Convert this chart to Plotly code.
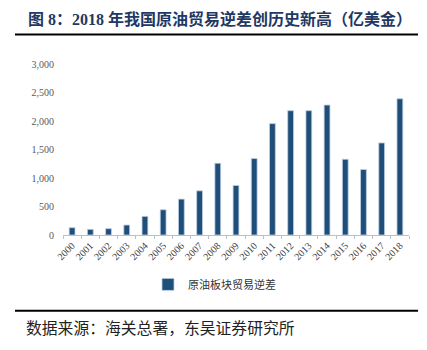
import plotly.graph_objects as go

years = [str(y) for y in range(2000, 2019)]
deficit = [128, 99, 111, 175, 327, 443, 630, 775, 1259, 869, 1341, 1954, 2181, 2181, 2280, 1329, 1149, 1615, 2391]
series_name = "原油板块贸易逆差"
title_text = "图 8：2018 年我国原油贸易逆差创历史新高（亿美金）"
source_text = "数据来源：海关总署，东吴证券研究所"
y_ticks = [0, 500, 1000, 1500, 2000, 2500, 3000]

W, H = 427, 350
L, R, T, B = 63, 18, 63.5, 115

fig = go.Figure()
fig.add_trace(go.Bar(
    x=years, y=deficit, name=series_name,
    marker=dict(color="#1F4E79", line=dict(color="#BFD0E4", width=0.8)),
    width=0.32,
))

def px_x(p):
    return (p - L) / (W - L - R)

def px_y(p):
    return (H - B - p) / (H - T - B)

fig.update_layout(
    width=W, height=H,
    margin=dict(l=L, r=R, t=T, b=B),
    paper_bgcolor="white", plot_bgcolor="white",
    showlegend=True,
    legend=dict(orientation="h", x=px_x(148), y=px_y(270), xanchor="left", yanchor="top",
                font=dict(family="Liberation Serif, Noto Sans CJK SC", size=11, color="#333333"),
                itemwidth=30, bgcolor="rgba(0,0,0,0)"),
    xaxis=dict(
        type="category", tickangle=-45,
        tickfont=dict(family="Liberation Serif", size=10, color="#404040"),
        showline=True, linecolor="#BFBFBF", linewidth=1,
        ticks="outside", ticklen=3, tickcolor="#BFBFBF", tickson="boundaries",
        showgrid=False,
    ),
    yaxis=dict(
        range=[0, 3000], tickvals=y_ticks, tickformat=",",
        tickfont=dict(family="Liberation Serif", size=10, color="#595959"),
        showgrid=False, showline=False, zeroline=False, ticks="", ticklabelstandoff=8,
    ),
    font=dict(family="Liberation Serif, Noto Sans CJK SC"),
)

fig.add_annotation(text=title_text, xref="paper", yref="paper",
                   x=px_x(26), y=px_y(18), xanchor="left", yanchor="middle", showarrow=False,
                   font=dict(family="Liberation Serif, Noto Sans CJK SC", size=16, color="#1F3864", weight="bold"))
fig.add_annotation(text=source_text, xref="paper", yref="paper",
                   x=px_x(24), y=px_y(328), xanchor="left", yanchor="middle", showarrow=False,
                   font=dict(family="Noto Sans CJK SC", size=15.8, color="#222222"))

for yy in (34, 311):
    fig.add_shape(type="line", xref="paper", yref="paper",
                  x0=px_x(15), x1=px_x(418), y0=px_y(yy), y1=px_y(yy),
                  line=dict(color="black", width=2))

fig.write_html("out.html")
